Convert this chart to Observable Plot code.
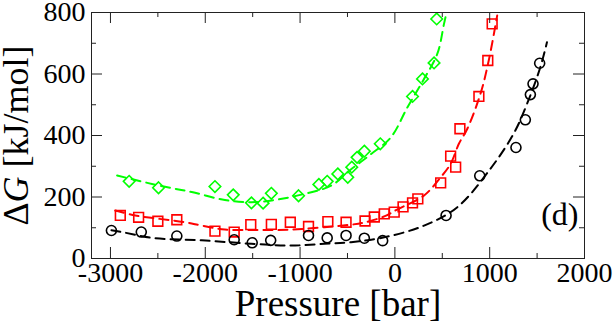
<!DOCTYPE html>
<html><head><meta charset="utf-8">
<script src="https://cdn.jsdelivr.net/npm/d3@7"></script>
<script src="https://cdn.jsdelivr.net/npm/@observablehq/plot@0.6"></script>
<style>body{margin:0;background:#fff} svg text{font-family:"Liberation Serif","Times New Roman",serif !important;}</style>
</head><body><div id="chart"></div>
<script>
// Axis ticks
const xTicks = [-3000, -2000, -1000, 0, 1000, 2000];
const xMinor = [-2500, -1500, -500, 500, 1500];
const yTicks = [0, 200, 400, 600, 800];
const yMinor = [100, 300, 500, 700];

// Green diamonds
const greenP = [-2803, -2493, -1898, -1705, -1513, -1390, -1303, -1016, -802, -714, -602, -497, -455, -399, -322, -154, 186, 291, 413, 441];
const greenG = [251, 230, 234, 207, 181, 180, 212, 204, 241, 251, 275, 264, 297, 329, 349, 373, 527, 584, 636, 779];
// Green fit (dashed)
const greenFitP = [-2930, -2500, -2143, -1793, -1513, -1232, -956, -672, -462, -250, -42, 133, 300, 448, 518, 545];
const greenFitG = [270, 238, 216, 190, 183, 192, 210, 237, 290, 340, 394, 492, 580, 666, 763, 800];

// Red squares
const redP = [-2896, -2703, -2500, -2300, -1898, -1695, -1520, -1303, -1103, -911, -707, -515, -315, -217, -112, -7, 86, 186, 242, 483, 588, 641, 686, 886, 980, 1026];
const redG = [140, 134, 121, 126, 89, 86, 110, 111, 118, 104, 120, 118, 122, 135, 145, 151, 168, 181, 194, 246, 333, 297, 422, 527, 644, 763];
// Red fit (dashed)
const redFitP = [-2950, -2738, -2213, -2038, -1793, -1442, -1092, -743, -462, -322, -112, 28, 308, 483, 588, 675, 764, 903, 990, 1079];
const redFitG = [156, 140, 118, 107, 94, 93, 94, 102, 110, 117, 137, 160, 205, 264, 308, 373, 422, 536, 644, 790];

// Black circles
const blackP = [-2990, -2675, -2300, -1695, -1505, -1310, -911, -714, -515, -322, -129, 540, 895, 1277, 1376, 1429, 1457, 1527];
const blackG = [91, 86, 73, 61, 51, 59, 75, 67, 75, 66, 58, 140, 269, 361, 451, 533, 568, 635];
// Black fit (dashed)
const blackFitP = [-2990, -2878, -2563, -2038, -1513, -1092, -743, -462, -112, 308, 659, 1008, 1253, 1394, 1534, 1604];
const blackFitG = [92, 86, 67, 59, 48, 42, 48, 53, 69, 107, 167, 292, 406, 503, 622, 703];

const zip = (P, G) => P.map((p, i) => ({p, g: G[i]}));

const W = 615, H = 325, mL = 91, mR = 31, mT = 12, mB = 67;
const pw = W - mL - mR, ph = H - mT - mB;
const major = 11, minor = 5;
const font = "Liberation Serif";
const dash = "9,6";

const chart = Plot.plot({
  width: W, height: H,
  marginLeft: mL, marginRight: mR, marginTop: mT, marginBottom: mB,
  style: {fontFamily: font, background: "white", overflow: "visible"},
  x: {domain: [-3200, 2000]},
  y: {domain: [0, 800]},
  marks: [
    // fits
    Plot.line(zip(greenFitP, greenFitG), {x: "p", y: "g", stroke: "#00ff00", strokeWidth: 2, strokeDasharray: dash, curve: "catmull-rom", clip: true}),
    Plot.line(zip(redFitP, redFitG), {x: "p", y: "g", stroke: "#ff0000", strokeWidth: 2, strokeDasharray: dash, curve: "catmull-rom", clip: true}),
    Plot.line(zip(blackFitP, blackFitG), {x: "p", y: "g", stroke: "#000", strokeWidth: 2, strokeDasharray: dash, curve: "catmull-rom", clip: true}),
    // points
    Plot.dot(zip(greenP, greenG), {x: "p", y: "g", symbol: "diamond2", r: 5.2, stroke: "#00ff00", strokeWidth: 1.6, fill: "none"}),
    Plot.dot(zip(redP, redG), {x: "p", y: "g", symbol: "square2", r: 6.2, stroke: "#ff0000", strokeWidth: 1.6, fill: "none"}),
    Plot.dot(zip(blackP, blackG), {x: "p", y: "g", symbol: "circle", r: 5, stroke: "#000", strokeWidth: 1.6, fill: "none"}),
    // inward ticks
    Plot.tickX(xTicks, {x: d => d, insetTop: ph - major, stroke: "#222"}),
    Plot.tickX(xTicks, {x: d => d, insetBottom: ph - major, stroke: "#222"}),
    Plot.tickX(xMinor, {x: d => d, insetTop: ph - minor, stroke: "#222"}),
    Plot.tickX(xMinor, {x: d => d, insetBottom: ph - minor, stroke: "#222"}),
    Plot.tickY(yTicks, {y: d => d, insetRight: pw - major, stroke: "#222"}),
    Plot.tickY(yTicks, {y: d => d, insetLeft: pw - major, stroke: "#222"}),
    Plot.tickY(yMinor, {y: d => d, insetRight: pw - minor, stroke: "#222"}),
    Plot.tickY(yMinor, {y: d => d, insetLeft: pw - minor, stroke: "#222"}),
    Plot.frame({stroke: "#222"}),
    // tick labels
    Plot.axisX({ticks: xTicks, tickSize: 0, tickPadding: 4, fontSize: 28, fontFamily: font, label: null, tickFormat: d => String(d), fill: "#000"}),
    Plot.axisY({ticks: yTicks, tickSize: 0, tickPadding: 6, fontSize: 28, fontFamily: font, label: null, tickFormat: d => String(d), fill: "#000"}),
    // titles
    Plot.text(["Pressure [bar]"], {frameAnchor: "bottom", text: d => d, dy: 57, lineAnchor: "bottom", fontSize: 37, fontFamily: font, fill: "#000"}),
    Plot.text(["ΔG [kJ/mol]"], {frameAnchor: "left", text: d => d, rotate: -90, dx: -64, textAnchor: "middle", lineAnchor: "bottom", fontSize: 36, fontFamily: font, fill: "#000"}),
    Plot.text(["(d)"], {frameAnchor: "bottom-right", text: d => d, textAnchor: "end", dx: -6, dy: -44, lineAnchor: "middle", fontSize: 32, fontFamily: font, fill: "#000"})
  ]
});

// italic G in y label
chart.querySelectorAll("text").forEach(t => {
  if (t.textContent === "ΔG [kJ/mol]") {
    t.textContent = "";
    const ns = "http://www.w3.org/2000/svg";
    const parts = [["Δ", null], ["G", "italic"], [" [kJ/mol]", null]];
    for (const [s, st] of parts) {
      const ts = document.createElementNS(ns, "tspan");
      ts.textContent = s;
      if (st) ts.setAttribute("font-style", st);
      t.appendChild(ts);
    }
  }
});

document.getElementById("chart").appendChild(chart);
</script>
</body></html>
